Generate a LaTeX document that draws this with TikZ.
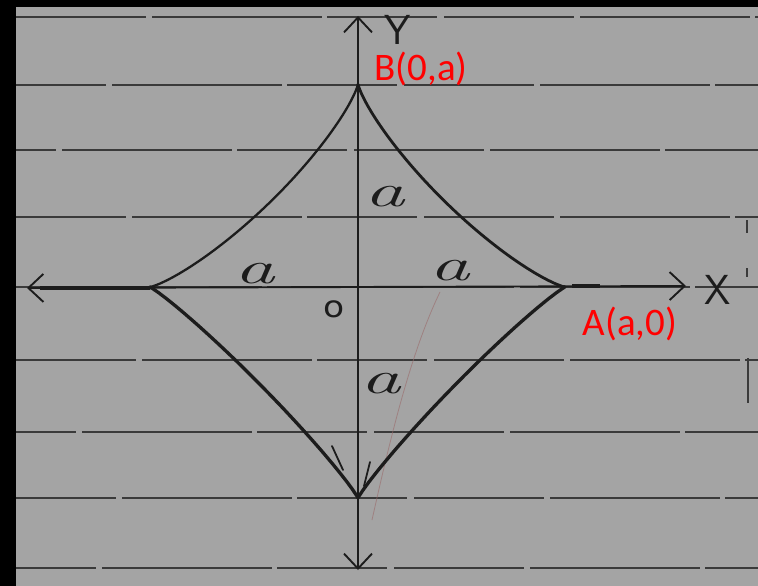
\documentclass[tikz,border=0pt]{standalone}
\usepackage{fontspec}
\newfontfamily\carlito{Carlito}
\newfontfamily\dejavu{DejaVu Sans}
\usetikzlibrary{arrows.meta}
\definecolor{paper}{HTML}{A4A4A4}
\definecolor{ink}{HTML}{1C1C1C}
\definecolor{rulec}{HTML}{3A3A3A}
\definecolor{redpen}{HTML}{FF0000}
\definecolor{pencil}{HTML}{9A6A6A}
\tikzset{
  rule/.style={draw=rulec, line width=1.6pt,
    dash pattern=on 130pt off 6pt on 170pt off 5pt on 110pt off 7pt},
  axisline/.style={draw=ink, line width=1.9pt, >={Straight Barb[length=15pt,width=28pt]}, <->},
  arcup/.style={draw=ink, line width=2.3pt, line join=round, line cap=round},
  arcdown/.style={draw=ink, line width=3.3pt, line join=round, line cap=round},
  redlbl/.style={text=redpen, inner sep=0pt, font=\fontsize{39}{41}\selectfont\carlito},
  handa/.style={text=ink, inner sep=0pt, xscale=1.75, font=\fontsize{46}{46}\selectfont\itshape},
  hando/.style={text=ink, inner sep=0pt, xscale=1.15, font=\fontsize{30}{30}\selectfont\dejavu},
  handcap/.style={text=ink, inner sep=0pt, font=\fontsize{42}{42}\selectfont\sffamily},
  marginmark/.style={draw=rulec, line width=1.3pt},
}
\begin{document}
\begin{tikzpicture}[x=1pt,y=-1pt]
\fill[black] (0,0) rectangle (758,586);
\fill[paper] (16,7) rectangle (758,586);
\useasboundingbox (0,0) rectangle (758,586);
% ruled lines
\foreach \yy/\ph in {17/0, 85/40, 150/90, 217/20, 287/60, 360/10, 432/70, 498/30, 568/50}
  \draw[rule, dash phase=\ph] (16,\yy) -- (758,\yy);
% margin marks
\draw[marginmark] (747,220) -- (747,233);
\draw[marginmark] (747,268) -- (747,277);
\draw[marginmark] (748,358) -- (748,403);
% stray pencil
\draw[pencil, line width=0.8pt, opacity=0.6] (440,292) .. controls (412,350) and (392,430) .. (372,520);
% coordinates
\coordinate (O) at (358,287);
\coordinate (xl) at (27,288);
\coordinate (xr) at (686,286);
\coordinate (yt) at (358,16);
\coordinate (yb) at (358,570);
\coordinate (L) at (150,288);
\coordinate (A) at (565,287);
\coordinate (B) at (358,84);
\coordinate (D) at (358,498);
% axes
\draw[axisline] (xl) -- (xr);
\draw[axisline] (yt) -- (yb);
\draw[ink, line width=3.6pt] (40,288) -- (L);
\draw[ink, line width=4pt] (572,286) -- (600,286);
% astroid arcs
\draw[arcup] (L) -- plot[domain=0.5:89.5, samples=90, variable=\t]
  ({358-208*pow(cos(\t),2.5)}, {287-203*pow(sin(\t),2.5)}) -- (B);
\draw[arcup, line width=2.8pt] (A) -- plot[domain=0.5:89.5, samples=90, variable=\t]
  ({358+207*pow(cos(\t),2.5)}, {287-203*pow(sin(\t),2.5)}) -- (B);
\draw[arcdown] (L) -- plot[domain=0.5:89.5, samples=90, variable=\t]
  ({358-208*pow(cos(\t),2.2)}, {287+211*pow(sin(\t),2.2)}) -- (D);
\draw[arcdown] (A) -- plot[domain=0.5:89.5, samples=90, variable=\t]
  ({358+207*pow(cos(\t),2.2)}, {287+211*pow(sin(\t),2.2)}) -- (D);
% small barbs near bottom cusp
\draw[ink, line width=1.8pt, line cap=round] (332,446) -- (343,470);
\draw[ink, line width=1.8pt, line cap=round] (370,462) -- (364,486);
% labels
\node[redlbl] (lblB) at (421,69) {B(0,a)};
\node[redlbl] (lblA) at (630,324) {A(a,0)};
\node[handa] (aT) at (385,197) {a};
\node[handa] (aR) at (450,271) {a};
\node[handa] (aL) at (255,274) {a};
\node[handa] (aB) at (381,384) {a};
\node[hando] (o) at (334,309) {o};
\node[handcap] (ylab) at (398,30) {Y};
\node[handcap] (xlab) at (718,290) {X};
\end{tikzpicture}
\end{document}
